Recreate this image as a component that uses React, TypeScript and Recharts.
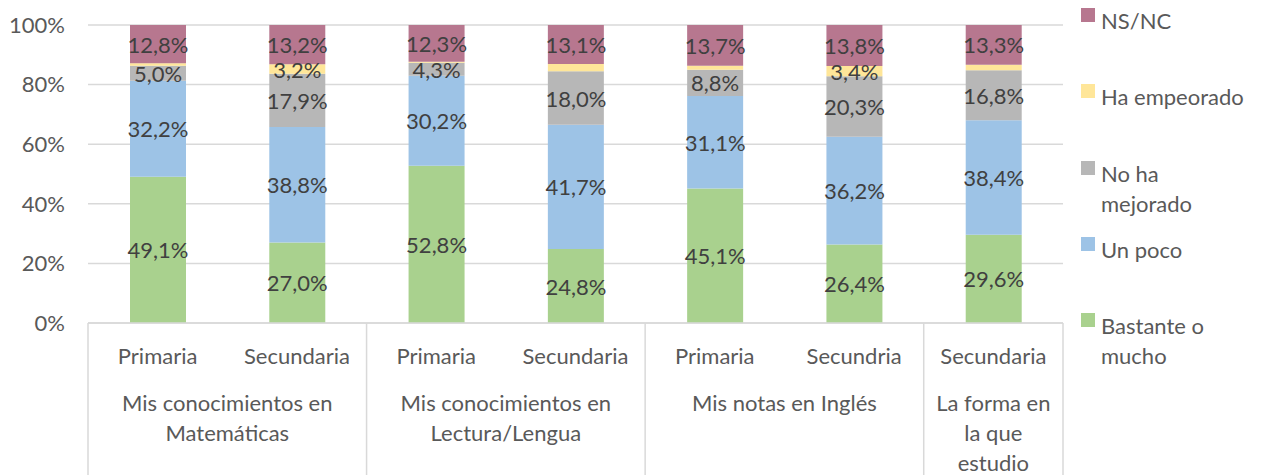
import React from 'react';
import { BarChart, Bar, XAxis, YAxis, CartesianGrid, LabelList, Legend } from 'recharts';

const levels = ['Primaria', 'Secundaria', 'Primaria', 'Secundaria', 'Primaria', 'Secundria', 'Secundaria'];
const groupOfCategory = [0, 0, 1, 1, 2, 2, 3];
const groupLabels = [
  ['Mis conocimientos en', 'Matemáticas'],
  ['Mis conocimientos en', 'Lectura/Lengua'],
  ['Mis notas en Inglés'],
  ['La forma en', 'la que', 'estudio'],
];
const bastante = [49.1, 27.0, 52.8, 24.8, 45.1, 26.4, 29.6];
const unPoco = [32.2, 38.8, 30.2, 41.7, 31.1, 36.2, 38.4];
const noHaMejorado = [5.0, 17.9, 4.3, 18.0, 8.8, 20.3, 16.8];
const haEmpeorado = [0.9, 3.2, 0.4, 2.4, 1.3, 3.4, 1.9];
const nsnc = [12.8, 13.2, 12.3, 13.1, 13.7, 13.8, 13.3];
const yTicks = [0, 0.2, 0.4, 0.6, 0.8, 1];

const series = [
  { key: 'bastante', name: 'Bastante o mucho', lines: ['Bastante o', 'mucho'], color: '#A9D18E', values: bastante, minLabel: 0 },
  { key: 'unPoco', name: 'Un poco', lines: ['Un poco'], color: '#9DC3E6', values: unPoco, minLabel: 0 },
  { key: 'noHa', name: 'No ha mejorado', lines: ['No ha', 'mejorado'], color: '#B7B7B7', values: noHaMejorado, minLabel: 0 },
  { key: 'empeorado', name: 'Ha empeorado', lines: ['Ha empeorado'], color: '#FFE699', values: haEmpeorado, minLabel: 3 },
  { key: 'nsnc', name: 'NS/NC', lines: ['NS/NC'], color: '#B7778F', values: nsnc, minLabel: 0 },
];

const data = levels.map((lv, i) => {
  const row: any = { id: `c${i}`, level: lv, group: groupOfCategory[i] };
  series.forEach((s) => {
    row[s.key] = s.values[i];
  });
  return row;
});

const FONT = 'Lato, "Source Sans Pro", sans-serif';
const FS = 22;
const GRID = '#D9D9D9';

const fmt = (v: number) => `${v.toFixed(1).replace('.', ',')}%`;

const makeLabel = (s: any) => (props: any) => {
  const { x, y, width, height, index } = props;
  const v = s.values[index];
  if (v == null || v < s.minLabel || v < 3) return null;
  return (
    <text
      x={x + width / 2}
      y={y + height / 2}
      textAnchor="middle"
      dominantBaseline="central"
      fill="#404040"
      fontFamily={FONT}
      fontSize={FS}
    >
      {fmt(v)}
    </text>
  );
};

const XTick = (props: any) => {
  const { x, y, index, width } = props;
  const n = levels.length;
  const band = (width && width > 0 ? width : 975) / n;
  const g = groupOfCategory[index];
  const isFirst = index === 0 || groupOfCategory[index - 1] !== g;
  const isLast = index === n - 1;
  const members = groupOfCategory.map((gg, i) => (gg === g ? i : -1)).filter((i) => i >= 0);
  const axisH = 152;
  const elems: any[] = [];
  elems.push(
    <text key="lv" x={x} y={y + 32} textAnchor="middle" dominantBaseline="central" fill="#595959" fontFamily={FONT} fontSize={FS}>
      {levels[index]}
    </text>
  );
  if (isFirst) {
    const left = x - band / 2;
    const cx = left + (members.length * band) / 2;
    elems.push(<line key="sepL" x1={left} x2={left} y1={y} y2={y + axisH} stroke={GRID} strokeWidth={1.5} />);
    groupLabels[g].forEach((ln, k) => {
      elems.push(
        <text key={`g${k}`} x={cx} y={y + 79 + k * 30} textAnchor="middle" dominantBaseline="central" fill="#595959" fontFamily={FONT} fontSize={FS}>
          {ln}
        </text>
      );
    });
  }
  if (isLast) {
    const right = x + band / 2;
    elems.push(<line key="sepR" x1={right} x2={right} y1={y} y2={y + axisH} stroke={GRID} strokeWidth={1.5} />);
  }
  return <g>{elems}</g>;
};

const LegendContent = () => {
  const items = [...series].reverse();
  return (
    <div style={{ position: 'absolute', left: 0, top: 0, width: 181, fontFamily: FONT, fontSize: FS, color: '#595959' }}>
      {items.map((s) => (
        <div key={s.key} style={{ height: 76.3, position: 'relative' }}>
          <div style={{ position: 'absolute', left: 0, top: 8, width: 14, height: 14, background: s.color }} />
          <div style={{ position: 'absolute', left: 20, top: 6, lineHeight: '30px', whiteSpace: 'nowrap' }}>
            {s.lines.map((l) => (
              <div key={l}>{l}</div>
            ))}
          </div>
        </div>
      ))}
    </div>
  );
};

export default function App() {
  return (
    <div style={{ position: 'absolute', left: 0, top: 0, width: 1262, height: 475, background: '#fff' }}>
      <BarChart
        width={1262}
        height={475}
        data={data}
        stackOffset="expand"
        margin={{ top: 25, right: 199, bottom: 0, left: 0 }}
      >
        <CartesianGrid vertical={false} stroke={GRID} strokeWidth={1.5} />
        <XAxis
          dataKey="id"
          interval={0}
          height={152}
          tickLine={false}
          tickSize={0}
          tickMargin={0}
          axisLine={{ stroke: GRID, strokeWidth: 1.5 }}
          tick={<XTick />}
        />
        <YAxis
          width={88}
          domain={[0, 1]}
          ticks={yTicks}
          tickFormatter={(v: number) => `${Math.round(v * 100)}%`}
          tickLine={false}
          axisLine={false}
          tickSize={0}
          tickMargin={23}
          tick={{ fill: '#595959', fontFamily: FONT, fontSize: FS }}
        />
        <Legend
          content={<LegendContent />}
          wrapperStyle={{ position: 'absolute', left: 1081, top: 0, width: 0, height: 0, overflow: 'visible' }}
        />
        {series.map((s) => (
          <Bar key={s.key} dataKey={s.key} name={s.name} stackId="a" fill={s.color} barSize={56} isAnimationActive={false}>
            <LabelList dataKey={s.key} content={makeLabel(s)} />
          </Bar>
        ))}
      </BarChart>
    </div>
  );
}
